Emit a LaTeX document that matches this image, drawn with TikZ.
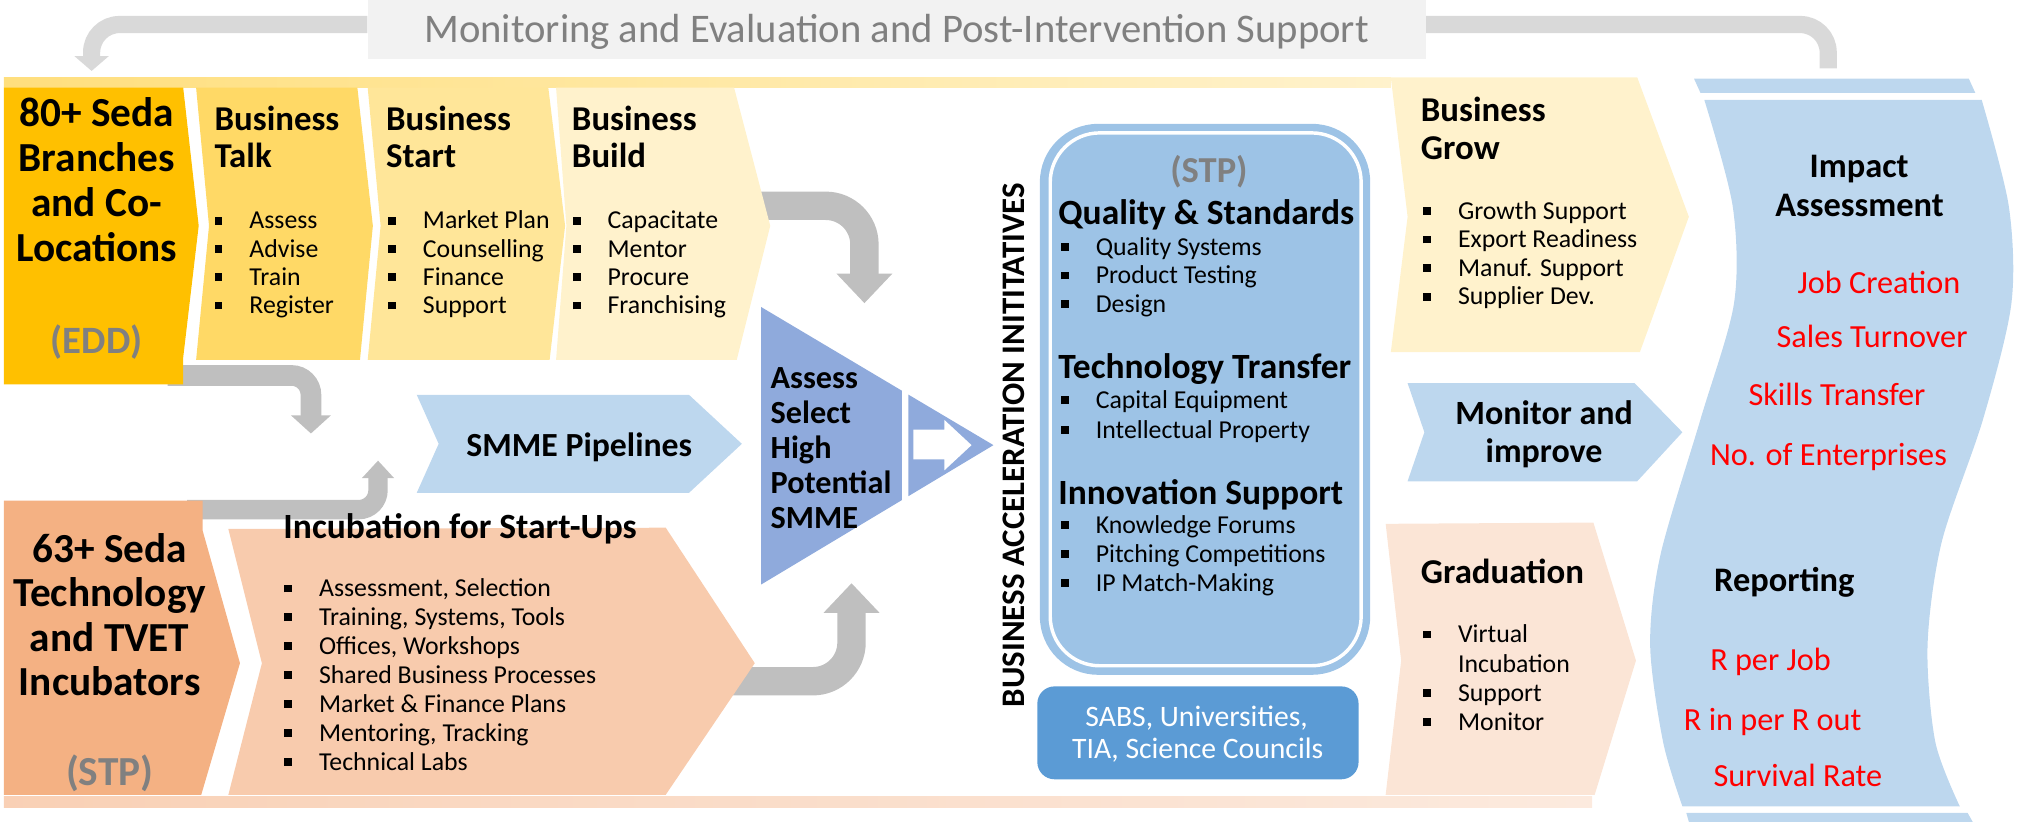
\documentclass[tikz,border=0pt]{standalone}
\usepackage{fontspec}
\setmainfont{Carlito}
\usetikzlibrary{arrows.meta}
\definecolor{eddorange}{HTML}{FFC000}
\definecolor{talkyellow}{HTML}{FFD966}
\definecolor{startyellow}{HTML}{FFE699}
\definecolor{buildyellow}{HTML}{FFF2CC}
\definecolor{tvetorange}{HTML}{F4B183}
\definecolor{incpeach}{HTML}{F8CBAD}
\definecolor{gradpeach}{HTML}{FBE5D6}
\definecolor{paleblue}{HTML}{BDD7EE}
\definecolor{assessblue}{HTML}{8FAADC}
\definecolor{stpblue}{HTML}{9DC3E6}
\definecolor{sabsblue}{HTML}{5B9BD5}
\definecolor{arrowgray}{HTML}{BFBFBF}
\definecolor{fbgray}{HTML}{D9D9D9}
\definecolor{boxgray}{HTML}{F2F2F2}
\definecolor{labelgray}{HTML}{808080}
\definecolor{kpired}{HTML}{FF0000}
\newcommand{\sq}{\makebox[16.2pt][l]{\rule[0.17em]{0.3em}{0.3em}}}
\newcommand{\nosq}{\makebox[16.2pt]{}}
\tikzset{
    txt/.style={inner sep=0pt, font=\fontsize{#1}{#1}\selectfont, text height=0.644*#1, text depth=0pt},
    btxt/.style={txt=#1, font=\fontsize{#1}{#1}\selectfont\bfseries},
    item/.style={txt=12pt, anchor=west},
    bhead/.style={btxt=16.2pt, anchor=west},
    kpi/.style={txt=15pt, text=kpired},
    bigarrow/.style={draw=arrowgray, line width=13.2pt, rounded corners=18pt, -{Triangle[width=25.2pt, length=13.8pt]}},
    smallarrow/.style={draw=arrowgray, line width=9.6pt, rounded corners=9pt, -{Triangle[width=18pt, length=8.4pt]}},
    fbline/.style={draw=fbgray, line width=8pt, rounded corners=13pt}
}
\begin{document}
\begin{tikzpicture}[x=0.6pt, y=-0.6pt]
    \useasboundingbox (0,0) rectangle (1568,637);

    % Feedback loop
    \node[txt=18.9pt, text=labelgray, fill=boxgray, minimum width=492pt, minimum height=27.6pt] (me) at (695,23) {Monitoring and Evaluation and Post-Intervention Support};
    \coordinate (fbL) at (71,55);
    \coordinate (fbR) at (1417,53);
    \draw[fbline, -{Triangle[width=15.6pt, length=6.9pt]}] ([yshift=2.4pt]me.west) -| (fbL);
    \draw[fbline] ([yshift=2.4pt]me.east) -| (fbR);

    % Gray flow arrows (behind the boxes)
    \coordinate (eddOut) at (130,291);
    \coordinate (eddTip) at (241,336);
    \draw[smallarrow] (eddOut) -| (eddTip);
    \coordinate (tvetOut) at (145,395);
    \coordinate (tvetTip) at (293,357);
    \draw[smallarrow, line width=9pt, -{Triangle[width=14.4pt, length=8.1pt]}] (tvetOut) -| (tvetTip);
    \coordinate (buildOut) at (580,159.5);
    \coordinate (buildTip) at (670,235);
    \draw[bigarrow] (buildOut) -| (buildTip);
    \coordinate (incOut) at (560,528);
    \coordinate (incTip) at (660,452);
    \draw[bigarrow] (incOut) -| (incTip);

    % Bands
    \shade[left color=talkyellow!85, right color=buildyellow] (3,60) rectangle (1078,68);
    \shade[left color=incpeach!90, right color=gradpeach!80] (3,617) rectangle (1234,626);

    % Top row
    \fill[eddorange] (3,68) -- (142,68) -- (154,175) -- (142,277) -- (142,298) -- (3,298) -- cycle;
    \fill[talkyellow] (152,68) -- (277,68) -- (289,175) -- (279,279) -- (152,279) -- (162,175) -- cycle;
    \fill[startyellow] (285,68) -- (425,68) -- (438,175) -- (426,279) -- (285,279) -- (295,175) -- cycle;
    \fill[buildyellow] (431,68) -- (569,68) -- (597,175) -- (571,279) -- (431,279) -- (439,175) -- cycle;
    \fill[buildyellow] (1078,60) -- (1269,60) -- (1309,168) -- (1271,273) -- (1078,273) -- (1091,168) -- cycle;

    % Middle and bottom rows
    \fill[paleblue] (323,306) -- (534,306) -- (575,344) -- (534,382) -- (323,382) -- (340,344) -- cycle;
    \fill[paleblue] (1091,297) -- (1267,297) -- (1304,335) -- (1269,373) -- (1091,373) -- (1104,335) -- cycle;
    \fill[tvetorange] (3,388) -- (157,388) -- (157,411) -- (186,514) -- (156,616) -- (3,616) -- cycle;
    \fill[incpeach] (177,410) -- (516,409) -- (585,514) -- (516,616) -- (177,616) -- (203,514) -- cycle;
    \fill[gradpeach] (1074,406) -- (1235,405) -- (1268,512) -- (1236,616) -- (1074,616) -- (1086,512) -- cycle;

    % Selection triangle
    \fill[assessblue] (590,238) -- (699,302.8) -- (699,387.6) -- (590,453) -- cycle;
    \fill[assessblue] (704,305.8) -- (770,345) -- (704,384.6) -- cycle;
    \fill[white] (708,333) -- (732,333) -- (732,325.5) -- (753,345) -- (732,364.5) -- (732,356) -- (708,356) -- cycle;

    % Acceleration box
    \fill[stpblue, rounded corners=27pt] (806,96) rectangle (1062,523);
    \draw[white, line width=1.6pt, rounded corners=23pt] (814,103) rectangle (1055,516);
    \node[fill=sabsblue, rounded corners=8pt, minimum width=149.4pt, minimum height=43.2pt] (sabs) at (928.5,568) {};

    % Impact wave
    \fill[paleblue] plot[smooth] coordinates {(1321,77.5) (1343,160) (1344,235) (1318,325) (1287,430) (1279,500) (1289,575) (1304,625)}
        -- plot[smooth] coordinates {(1519,625) (1500,575) (1494,500) (1505,420) (1537,325) (1559,235) (1557,160) (1536,77.5)} -- cycle;
    \fill[paleblue] (1313,61) -- (1526,61) -- (1531,72) -- (1318,72) -- cycle;
    \fill[paleblue] (1307,630) -- (1525,630) -- (1529,637) -- (1309,637) -- cycle;

    % Labels: branches
    \foreach \s [count=\i from 0] in {80+ Seda, Branches, and Co-, Locations}
        \node[btxt=19.2pt] (edd-\i) at (75,{88+34.9*\i}) {\s};
    \node[btxt=18pt, text=labelgray] (edd-tag) at (75,264) {(EDD)};

    % Labels: business stages
    \foreach \x/\w [count=\i] in {166/Talk, 299/Start, 443/Build} {
        \node[bhead] (bus\i-a) at (\x,92.3) {Business};
        \node[bhead] (bus\i-b) at (\x,121.4) {\w};
    }
    \foreach \s [count=\i from 0] in {Assess,Advise,Train,Register}
        \node[item] (talk-\i) at (166,{171+21.9*\i}) {\sq\s};
    \foreach \s [count=\i from 0] in {Market Plan,Counselling,Finance,Support}
        \node[item] (start-\i) at (300.5,{171+21.9*\i}) {\sq\s};
    \foreach \s [count=\i from 0] in {Capacitate,Mentor,Procure,Franchising}
        \node[item] (build-\i) at (443.6,{171+21.9*\i}) {\sq\s};
    \node[btxt=15.7pt] (pipe) at (449,345.5) {SMME Pipelines};

    % Labels: incubators
    \foreach \s [count=\i from 0] in {63+ Seda, Technology, and TVET, Incubators}
        \node[btxt=19.2pt] (tvet-\i) at (85,{425.5+34.5*\i}) {\s};
    \node[btxt=19.2pt, text=labelgray] (tvet-tag) at (85,598.5) {(STP)};
    \node[btxt=16.5pt, anchor=west] (inc-t) at (219.4,408.2) {Incubation for Start-Ups};
    \foreach \s [count=\i from 0] in {{Assessment, Selection},{Training, Systems, Tools},{Offices, Workshops},Shared Business Processes,Market \& Finance Plans,{Mentoring, Tracking},Technical Labs}
        \node[item] (inc-\i) at (220,{456+22.4*\i}) {\sq\s};

    % Labels: selection
    \foreach \s [count=\i from 0] in {Assess,Select,High,Potential,SMME}
        \node[btxt=15pt, anchor=west] (sel-\i) at (597,{292.7+27.3*\i}) {\s};
    \node[btxt=15.3pt, rotate=90] (bai) at (786,345) {BUSINESS ACCELERATION INITITATIVES};

    % Labels: acceleration box
    \node[btxt=17pt, text=labelgray] (stp-tag) at (937,132.3) {(STP)};
    \node[btxt=16.5pt, anchor=west] (qs) at (820,165) {Quality \& Standards};
    \foreach \s [count=\i from 0] in {Quality Systems,Product Testing,Design}
        \node[item] (qs-\i) at (822,{191.2+22.2*\i}) {\sq\s};
    \node[btxt=16.5pt, anchor=west] (tt) at (820,284.2) {Technology Transfer};
    \foreach \s [count=\i from 0] in {Capital Equipment,Intellectual Property}
        \node[item] (tt-\i) at (822,{310.2+23*\i}) {\sq\s};
    \node[btxt=16.5pt, anchor=west] (is) at (820,382.3) {Innovation Support};
    \foreach \s [count=\i from 0] in {Knowledge Forums,Pitching Competitions,IP Match-Making}
        \node[item] (is-\i) at (822,{406.9+22.4*\i}) {\sq\s};
    \node[txt=13.8pt, text=white] (sabs-1) at (927.5,556) {SABS, Universities,};
    \node[txt=13.8pt, text=white] (sabs-2) at (928.3,580.4) {TIA, Science Councils};

    % Labels: grow, monitor, graduation
    \node[bhead] (grow-a) at (1101,85.2) {Business};
    \node[bhead] (grow-b) at (1101,115) {Grow};
    \foreach \s [count=\i from 0] in {Growth Support,Export Readiness,Manuf. Support,Supplier Dev.}
        \node[item] (grow-\i) at (1102.8,{163.3+22.2*\i}) {\sq\s};
    \node[btxt=15.8pt] (mon-1) at (1196.8,320.8) {Monitor and};
    \node[btxt=15.8pt] (mon-2) at (1196.8,350) {improve};
    \node[bhead] (grad-t) at (1101,443.5) {Graduation};
    \node[item] (grad-0) at (1102.8,491.8) {\sq Virtual};
    \node[item] (grad-1) at (1102.8,514.5) {\nosq Incubation};
    \node[item] (grad-2) at (1102.8,537) {\sq Support};
    \node[item] (grad-3) at (1102.8,559.8) {\sq Monitor};

    % Labels: impact
    \node[btxt=16pt] (imp-1) at (1441,129) {Impact};
    \node[btxt=16pt] (imp-2) at (1441.3,158.9) {Assessment};
    \foreach \x/\y/\s [count=\i] in {1456.3/219.6/Job Creation, 1451/261/Sales Turnover, 1423.8/306.3/Skills Transfer, 1417.2/352.6/No. of Enterprises}
        \node[kpi] (kpi-\i) at (\x,\y) {\s};
    \node[btxt=16pt] (rep) at (1383,449.5) {Reporting};
    \foreach \x/\y/\s [count=\i] in {1372.3/511.5/R per Job, 1374/558/R in per R out, 1393.5/601.9/Survival Rate}
        \node[kpi] (rep-\i) at (\x,\y) {\s};
\end{tikzpicture}
\end{document}
